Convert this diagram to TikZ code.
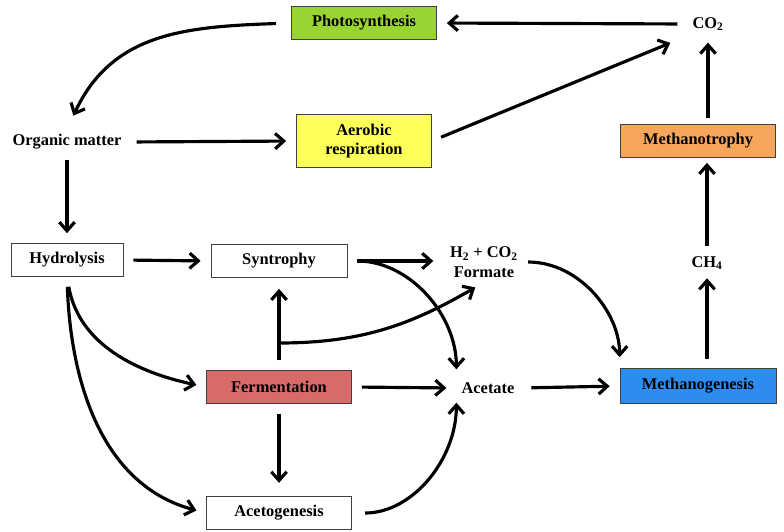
\documentclass[tikz,border=0pt]{standalone}
\usepackage{fontspec}
\setmainfont{Liberation Serif}
\usetikzlibrary{arrows.meta}
\definecolor{photocol}{RGB}{153,212,51}
\definecolor{aercol}{RGB}{255,255,90}
\definecolor{mtrcol}{RGB}{246,166,90}
\definecolor{fermcol}{RGB}{216,106,106}
\definecolor{mgencol}{RGB}{45,140,240}
\tikzset{
mybox/.style={
  draw=black!75,
  line width=0.6pt,
  inner sep=0pt,
  minimum height=9.9mm,
  align=center,
  font=\fontsize{14}{16.5}\selectfont\bfseries
  },
mytext/.style={
  align=center,
  inner sep=1.5mm,
  font=\fontsize{14}{16.5}\selectfont\bfseries
  },
flow/.style={
  line width=2.7pt,
  -{Straight Barb[length=2.6mm,width=4.6mm]}
  }
}

\begin{document}
\begin{tikzpicture}[x=0.3mm, y=-0.3mm]
\useasboundingbox (0,0) rectangle (784,531);

\node[mybox, fill=photocol, minimum width=43.5mm] (photo) at (364,23) {Photosynthesis};
\node[mytext] (co2) at (708,24) {CO\textsubscript{2}};
\node[mytext] (om) at (67,142) {Organic matter};
\node[mybox, fill=aercol, minimum width=40.5mm, minimum height=15.9mm] (aer) at (364,141) {Aerobic\\respiration};
\node[mybox, fill=mtrcol, minimum width=46.5mm] (mtr) at (698,141) {Methanotrophy};
\node[mybox, fill=white, minimum width=33.6mm] (hyd) at (67,260) {Hydrolysis};
\node[mybox, fill=white, minimum width=40.8mm] (syn) at (279,261) {Syntrophy};
\node[mytext] (h2) at (484,262) {H\textsubscript{2} + CO\textsubscript{2}\\Formate};
\node[mytext] (ch4) at (707,263) {CH\textsubscript{4}};
\node[mybox, fill=fermcol, minimum width=43.5mm] (ferm) at (279,387) {Fermentation};
\node[mytext] (acc) at (488,388) {Acetate};
\node[mybox, fill=mgencol, minimum width=46.8mm, minimum height=10.5mm] (mgen) at (698,386) {Methanogenesis};
\node[mybox, fill=white, minimum width=43.5mm] (aceto) at (279,513) {Acetogenesis};
\coordinate (fork) at (279,343);

\begin{scope}[flow, shorten <=3mm, shorten >=3mm]
\draw (co2.west) -- (photo.east);
\draw[shorten <=4.5mm, shorten >=4.5mm]
  (photo.west) to[out=182, in=65, looseness=1.1] (om.north);
\draw (om.east) -- (aer.west);
\draw[shorten >=5.5mm] (aer.east) -- (co2.south west);
\draw[shorten <=1.8mm, shorten >=2mm] (mtr.north -| co2.south) -- (co2.south);
\draw[shorten <=1.5mm, shorten >=1.5mm] (ch4.north) -- (mtr.south -| ch4.north);
\draw[shorten <=2.7mm, shorten >=1mm] (mgen.north -| ch4.south) -- (ch4.south);
\draw[shorten <=1.5mm] (om.south) -- (hyd.north);
\draw (hyd.east) -- (syn.west);
\draw[shorten >=3.5mm] (syn.east) -- (h2.west |- syn.east);
\draw[shorten >=2.4mm] (syn.east) to[out=0, in=90] (acc.north west);
\draw[shorten >=3.3mm] (ferm.north) -- (syn.south);
\draw[shorten <=0mm, shorten >=3mm] (fork) to[out=0, in=-150] (h2.south);
\draw[shorten <=1.5mm, shorten >=3.3mm] (h2.east) to[out=0, in=90] (mgen.north west);
\draw (ferm.east) -- (acc.west);
\draw[shorten <=3.5mm] (acc.east) -- (mgen.west);
\draw[shorten >=4mm] (ferm.south) -- (aceto.north);
\draw[shorten <=4mm, shorten >=1.2mm] (aceto.east) to[out=0, in=-90] (acc.south west);
\draw (hyd.south) to[out=-80, in=168] (ferm.west);
\draw (hyd.south) to[out=-88, in=165] (aceto.west);
\end{scope}
\end{tikzpicture}
\end{document}
